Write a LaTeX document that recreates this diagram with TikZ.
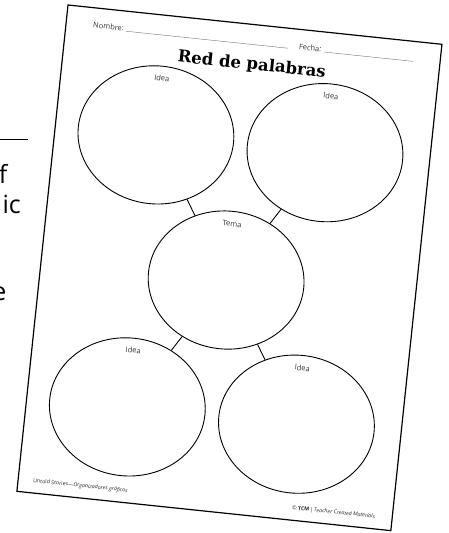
\documentclass[tikz,border=0pt]{standalone}
\usepackage{fontspec}
\setsansfont{Open Sans}
\newfontfamily\titlefont{DejaVu Serif}
\usetikzlibrary{shapes.geometric}

\begin{document}
\begin{tikzpicture}[x=1pt,y=-1pt,
        blob/.style={draw,ellipse,line width=0.9pt,minimum width=156pt,minimum height=138pt,inner sep=0pt},
        lbl/.style={font=\sffamily\fontsize{7.5}{9}\selectfont,inner sep=0pt,text=black!80},
        foot/.style={font=\sffamily\fontsize{5.3}{6}\selectfont,inner sep=0pt,text=black!85},
        bigtext/.style={font=\sffamily\fontsize{25}{30}\selectfont,anchor=base east,inner sep=0pt},
        link/.style={line width=0.9pt},
        blank/.style={line width=0.4pt,black!55}]
    \useasboundingbox (0,0) rectangle (449,533);
    \fill[white] (0,0) rectangle (449,533);
    \clip (0,0) rectangle (449,533);

    % text of the book page behind
    \draw[line width=1pt] (0,139) -- (28,139);
    \node[bigtext] (wordf) at (7.5,183) {f};
    \node[bigtext] (wordic) at (21,213) {ic};
    \node[bigtext] (worde) at (6.5,300) {e};

    % worksheet
    \begin{scope}[shift={(68,5)},rotate=-6,transform shape]
        \draw[line width=1.2pt,fill=white] (0,0) rectangle (376,489);

        % header
        \node[lbl,anchor=base west] (nombre) at (27,20) {Nombre:};
        \draw[blank] (60,20) -- (223,20);
        \node[lbl,anchor=base west] (fecha) at (234,20) {Fecha:};
        \draw[blank] (260,20) -- (349,20);
        \node[font=\titlefont\bfseries\fontsize{16.5}{20}\selectfont,anchor=base,inner sep=0pt] (title) at (189,45) {Red de palabras};

        % circles
        \node[blob] (idea1) at (101,120) {};
        \node[blob] (idea2) at (271,120) {};
        \node[blob] (tema) at (186,257) {};
        \node[blob] (idea3) at (101,393.5) {};
        \node[blob] (idea4) at (271,393) {};

        \node[lbl] (idea1lbl) at (101,63) {Idea};
        \node[lbl] (idea2lbl) at (271,63) {Idea};
        \node[lbl] (temalbl) at (186,200.5) {Tema};
        \node[lbl] (idea3lbl) at (101,336.5) {Idea};
        \node[lbl] (idea4lbl) at (271,336.5) {Idea};

        \draw[link] (idea1) -- (tema);
        \draw[link] (idea2) -- (tema);
        \draw[link] (idea3) -- (tema);
        \draw[link] (idea4) -- (tema);

        % footer
        \node[foot,anchor=west] (series) at (15,477) {Untold Stories—\textit{Organizadores gráficos}};
        \node[foot,anchor=east] (tcm) at (359,477) {\textcopyright{} \textbf{TCM}\,|\,\textit{Teacher Created Materials}};
    \end{scope}
\end{tikzpicture}
\end{document}
